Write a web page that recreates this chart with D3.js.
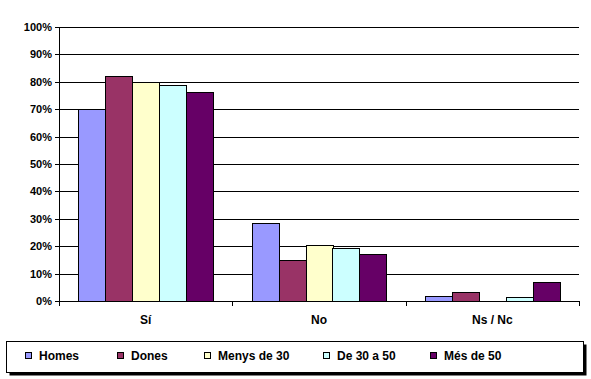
<!DOCTYPE html>
<html>
<head>
<meta charset="utf-8">
<script src="https://cdn.jsdelivr.net/npm/d3@7"></script>
<style>
  body { margin: 0; background: #fff; }
  text { font-family: "Liberation Sans", Arial, sans-serif; font-weight: bold; fill: #000; }
</style>
</head>
<body>
<div id="chart"></div>
<script>
// Data
const categories = ["Sí", "No", "Ns / Nc"];
const seriesNames = ["Homes", "Dones", "Menys de 30", "De 30 a 50", "Més de 50"];
const homes = [70, 28.4, 1.8];
const dones = [82, 14.9, 3.2];
const menys30 = [80, 20.3, 0];
const de30a50 = [79, 19.2, 1.5];
const mes50 = [76.2, 17, 6.8];
const yTicks = [0, 10, 20, 30, 40, 50, 60, 70, 80, 90, 100];

const series = [homes, dones, menys30, de30a50, mes50];
const colors = ["#9999FF", "#993366", "#FFFFCC", "#CCFFFF", "#660066"];

const width = 591, height = 379;
const plot = { left: 59, right: 579, top: 27, bottom: 301 };

const svg = d3.select("#chart").append("svg")
    .attr("width", width)
    .attr("height", height);

const x0 = d3.scaleBand()
    .domain(categories)
    .range([plot.left, plot.right])
    .paddingInner(0)
    .paddingOuter(0);

const x1 = d3.scaleBand()
    .domain(d3.range(seriesNames.length))
    .range([0, x0.bandwidth()])
    .paddingInner(0)
    .paddingOuter(0.72);

const y = d3.scaleLinear().domain([0, 100]).range([plot.bottom, plot.top]);

// gridlines
svg.append("g").selectAll("line")
    .data(yTicks)
    .enter().append("line")
    .attr("x1", plot.left - 4)
    .attr("x2", plot.right)
    .attr("y1", d => Math.round(y(d)) + 0.5)
    .attr("y2", d => Math.round(y(d)) + 0.5)
    .attr("stroke", "#000")
    .attr("stroke-width", 1);

// y labels
svg.append("g").selectAll("text")
    .data(yTicks)
    .enter().append("text")
    .attr("x", plot.left - 7)
    .attr("y", d => Math.round(y(d)) + 0.5)
    .attr("dy", "0.35em")
    .attr("text-anchor", "end")
    .attr("font-size", 11)
    .text(d => d + "%");

// bars
categories.forEach((cat, ci) => {
  const g = svg.append("g").attr("transform", `translate(${x0(cat)},0)`);
  g.selectAll("rect")
    .data(series.map((s, si) => ({ si, v: s[ci] })).filter(d => d.v > 0))
    .enter().append("rect")
    .attr("x", d => Math.round(x0(cat) + x1(d.si)) - x0(cat) + 0.5)
    .attr("y", d => Math.round(y(d.v)) + 0.5)
    .attr("width", Math.round(x1.bandwidth()))
    .attr("height", d => Math.round(y(0)) - Math.round(y(d.v)))
    .attr("fill", d => colors[d.si])
    .attr("stroke", "#000")
    .attr("stroke-width", 1);
});

// axes lines
svg.append("line")
    .attr("x1", plot.left + 0.5).attr("x2", plot.left + 0.5)
    .attr("y1", plot.top).attr("y2", plot.bottom + 5)
    .attr("stroke", "#000");
svg.append("line")
    .attr("x1", plot.left).attr("x2", plot.right)
    .attr("y1", plot.bottom + 0.5).attr("y2", plot.bottom + 0.5)
    .attr("stroke", "#000");

// x tick marks at category boundaries
const boundaries = categories.map(c => x0(c)).concat([plot.right]);
svg.append("g").selectAll("line")
    .data(boundaries)
    .enter().append("line")
    .attr("x1", d => Math.round(d) + 0.5)
    .attr("x2", d => Math.round(d) + 0.5)
    .attr("y1", plot.bottom)
    .attr("y2", plot.bottom + 5)
    .attr("stroke", "#000");

// category labels
svg.append("g").selectAll("text")
    .data(categories)
    .enter().append("text")
    .attr("x", d => x0(d) + x0.bandwidth() / 2)
    .attr("y", 324)
    .attr("text-anchor", "middle")
    .attr("font-size", 12)
    .text(d => d);

// legend
const legend = svg.append("g");
legend.append("rect")
    .attr("x", 9.5).attr("y", 344.5)
    .attr("width", 577).attr("height", 31)
    .attr("fill", "#000");
legend.append("rect")
    .attr("x", 6.5).attr("y", 341.5)
    .attr("width", 577).attr("height", 31)
    .attr("fill", "#fff")
    .attr("stroke", "#000");

const legendX = [25, 117, 204, 323, 430];
const items = legend.selectAll("g.item")
    .data(seriesNames)
    .enter().append("g")
    .attr("transform", (d, i) => `translate(${legendX[i]},356)`);
items.append("rect")
    .attr("x", 0.5).attr("y", -3.5)
    .attr("width", 6).attr("height", 6)
    .attr("fill", (d, i) => colors[i])
    .attr("stroke", "#000");
items.append("text")
    .attr("x", 14)
    .attr("y", 0)
    .attr("dy", "0.35em")
    .attr("font-size", 12)
    .text(d => d);
</script>
</body>
</html>
